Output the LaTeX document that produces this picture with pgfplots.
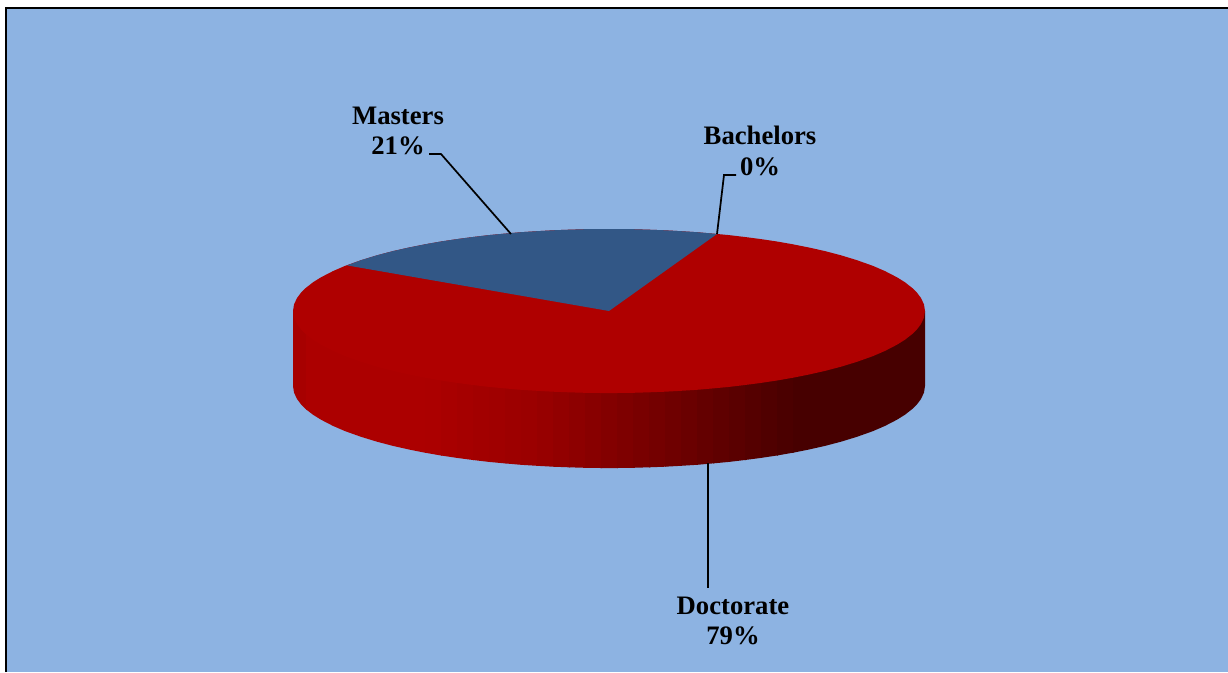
\documentclass[border=0pt]{standalone}
\usepackage{fontspec}
\setmainfont{Liberation Serif}
\usepackage{pgfplots}
\pgfplotsset{compat=1.18}
\definecolor{bgblue}{HTML}{8DB3E2}
\definecolor{topred}{HTML}{AF0000}
\definecolor{mastersblue}{HTML}{325786}
% one slice of the shaded pie wall: red value, x0, lower y0, x1, lower y1
% (runs one unit past x1 so that the next slice covers any seam)
\newcommand{\band}[5]{\addplot[draw=none,fill={rgb,255:red,#1;green,0;blue,0}] coordinates {(#2,311) (#4+1,311) (#4+1,#5) (#4,#5) (#2,#3)} --cycle;}
\newcommand{\lbl}[3]{\node[font=\fontsize{20}{22}\selectfont\bfseries,anchor=base,inner sep=0pt] at (axis cs:#1,#2) {#3};}
\begin{document}
\begin{tikzpicture}
\begin{axis}[
  width=921pt, height=504pt, scale only axis,
  xmin=0, xmax=1228, ymin=0, ymax=672, y dir=reverse,
  hide axis, clip=true]
% page and plot area
\addplot[draw=none,fill=white] coordinates {(0,0) (1228,0) (1228,672) (0,672)} --cycle;
\addplot[draw=none,fill=bgblue] coordinates {(7,8) (1228,8) (1228,672) (7,672)} --cycle;
\addplot[black,line width=1.5pt] coordinates {(6,672) (6,7.5) (1228,7.5)};
% wall of the pie
\addplot[draw=none,fill={rgb,255:red,167;green,0;blue,0}] coordinates {(293,311) (307,311) (307,410) (305,408.4) (301,404.3) (297,399) (294,392.5) (293,386)} --cycle;
\addplot[draw=none,fill={rgb,255:red,172;green,0;blue,0}] coordinates {(306,311) (426,311) (426,452.9) (409,449.5) (393,445.9) (377,441.7) (361,436.8) (345,431.1) (333,425.9) (321,419.7) (313,414.7) (306,409.3)} --cycle;
\band{171}{425}{452.7}{441}{455.5}
\band{168}{441}{455.5}{457}{457.9}
\band{165}{457}{457.9}{473}{460.0}
\band{162}{473}{460.0}{489}{461.9}
\band{160}{489}{461.9}{505}{463.4}
\band{157}{505}{463.4}{521}{464.8}
\band{155}{521}{464.8}{537}{465.8}
\band{151}{537}{465.8}{553}{466.7}
\band{146}{553}{466.7}{569}{467.3}
\band{141}{569}{467.3}{585}{467.8}
\band{136}{585}{467.8}{601}{468.0}
\band{131}{601}{468.0}{617}{468.0}
\band{126}{617}{468.0}{633}{467.8}
\band{121}{633}{467.8}{649}{467.3}
\band{116}{649}{467.3}{665}{466.7}
\band{111}{665}{466.7}{681}{465.8}
\band{106}{681}{465.8}{697}{464.8}
\band{100}{697}{464.8}{713}{463.4}
\band{95}{713}{463.4}{729}{461.9}
\band{90}{729}{461.9}{745}{460.0}
\band{85}{745}{460.0}{761}{457.9}
\band{80}{761}{457.9}{777}{455.5}
\band{75}{777}{455.5}{793}{452.7}
\addplot[draw=none,fill={rgb,255:red,71;green,0;blue,0}] coordinates {(793,311) (925,311) (925,386) (924,392.5) (921,399) (917,404.3) (913,408.4) (905,414.7) (897,419.7) (885,425.9) (873,431.1) (857,436.8) (841,441.7) (825,445.9) (809,449.5) (793,452.7)} --cycle;
% top face, Doctorate
\addplot[draw=none,fill=topred] coordinates {
  (293,311) (294,317.5) (297,324) (301,329.3) (305,333.4) (313,339.7) (321,344.7) (333,350.9) (345,356.1) (361,361.8)
  (377,366.7) (393,370.9) (409,374.5) (425,377.7) (441,380.5) (457,382.9) (473,385) (489,386.9) (505,388.4) (521,389.8)
  (537,390.8) (553,391.7) (569,392.3) (585,392.8) (601,393) (617,393) (633,392.8) (649,392.3) (665,391.7) (681,390.8)
  (697,389.8) (713,388.4) (729,386.9) (745,385) (761,382.9) (777,380.5) (793,377.7) (809,374.5) (825,370.9) (841,366.7)
  (857,361.8) (873,356.1) (885,350.9) (897,344.7) (905,339.7) (913,333.4) (917,329.3) (921,324) (924,317.5) (925,311)
  (924,304.5) (921,298) (917,292.7) (913,288.6) (905,282.3) (897,277.3) (885,271.1) (873,265.9) (857,260.2) (841,255.3)
  (825,251.1) (809,247.5) (793,244.3) (777,241.5) (761,239.1) (745,237) (729,235.1) (713,233.6) (697,232.2) (681,231.2)
  (665,230.3) (649,229.7) (633,229.2) (617,229) (601,229) (585,229.2) (569,229.7) (553,230.3) (537,231.2) (521,232.2)
  (505,233.6) (489,235.1) (473,237) (457,239.1) (441,241.5) (425,244.3) (409,247.5) (393,251.1) (377,255.3) (361,260.2)
  (345,265.9) (333,271.1) (321,277.3) (313,282.3) (305,288.6) (301,292.7) (297,298) (294,304.5)} --cycle;
% top face, Masters
\addplot[draw=none,fill=mastersblue] coordinates {
  (609,311) (347,265.4) (361,260.2) (377,255.3) (393,251.1) (409,247.5) (425,244.3) (441,241.5) (457,239.1) (473,237)
  (489,235.1) (505,233.6) (521,232.2) (537,231.2) (553,230.3) (569,229.7) (585,229.2) (601,229) (617,229) (633,229.2)
  (649,229.7) (665,230.3) (681,231.2) (697,232.2) (713,233.6) (717,234)} --cycle;
% leader lines
\addplot[black,line width=1.3pt] coordinates {(429,154) (441,154) (511,234)};
\addplot[black,line width=1.3pt] coordinates {(736,175) (724,175) (717,234)};
\addplot[black,line width=1.3pt] coordinates {(708,463) (708,588)};
% labels
\lbl{398}{124}{Masters}
\lbl{398}{154}{21\%}
\lbl{760}{144}{Bachelors}
\lbl{760}{175}{0\%}
\lbl{733}{614}{Doctorate}
\lbl{733}{644}{79\%}
\end{axis}
\end{tikzpicture}
\end{document}
